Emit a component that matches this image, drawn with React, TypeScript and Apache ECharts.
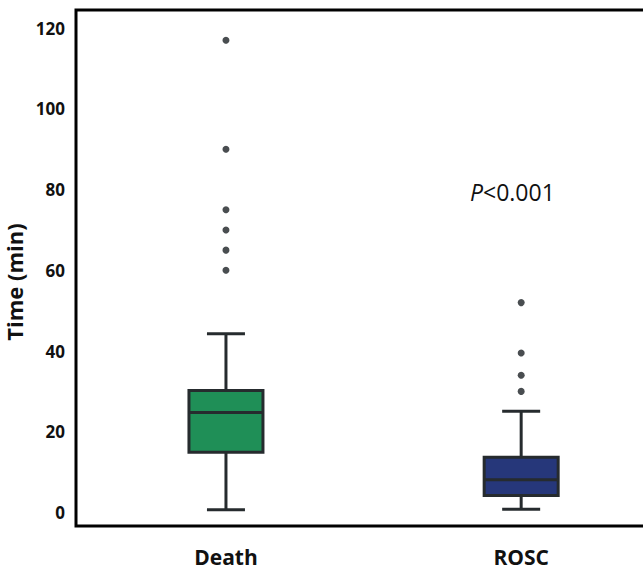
import React, { useEffect, useRef } from "react";
import * as echarts from "echarts";

const categories = ["Death", "ROSC"];
const whiskerLow = [0.7, 0.8];
const q1Values = [14.9, 4.2];
const medianValues = [24.8, 8.1];
const q3Values = [30.2, 13.7];
const whiskerHigh = [44.3, 25.1];
const outliersDeath = [60, 65, 70, 75, 90, 117];
const outliersROSC = [30, 34, 39.5, 52];
const yTicks = [0, 20, 40, 60, 80, 100, 120];
const boxColors = ["#1f8f57", "#26377a"];
const pText = "P<0.001";

const FONT = "'Open Sans', 'Noto Sans', sans-serif";
const INK = "#262b2e";

export default function App() {
  const ref = useRef<HTMLDivElement>(null);
  useEffect(() => {
    if (!ref.current) return;
    const chart = echarts.init(ref.current, undefined, { renderer: "svg" });
    const boxData = categories.map((_, i) => [
      i,
      whiskerLow[i],
      q1Values[i],
      medianValues[i],
      q3Values[i],
      whiskerHigh[i],
    ]);
    const outlierData = [
      ...outliersDeath.map((v) => [0, v]),
      ...outliersROSC.map((v) => [1, v]),
    ];
    chart.setOption({
      animation: false,
      backgroundColor: "#ffffff",
      grid: {
        left: 76,
        top: 10,
        width: 640,
        height: 516,
        show: true,
        borderColor: "#000",
        borderWidth: 3,
        backgroundColor: "transparent",
        outerBoundsMode: "none",
        containLabel: false,
      },
      xAxis: {
        type: "value",
        min: -0.508,
        max: 1.66,
        splitLine: { show: false },
        axisLine: { show: false },
        axisTick: { show: false },
        axisLabel: {
          customValues: [0, 1],
          formatter: (v: number) => categories[Math.round(v)] ?? "",
          fontFamily: FONT,
          fontWeight: "bold",
          fontSize: 21,
          color: "#111",
          margin: 20,
        },
      },
      yAxis: {
        type: "value",
        min: -3.35,
        max: 124.5,
        name: "Time (min)",
        nameLocation: "middle",
        nameRotate: 90,
        nameGap: 40,
        nameTextStyle: {
          fontFamily: FONT,
          fontWeight: "bold",
          fontSize: 22,
          color: "#111",
          padding: [0, 28, 0, 0],
        },
        splitLine: { show: false },
        axisLine: { show: false },
        axisTick: { show: false },
        axisLabel: {
          customValues: yTicks,
          fontFamily: FONT,
          fontWeight: "bold",
          fontSize: 17,
          color: "#111",
          margin: 11,
        },
      },
      series: [
        {
          type: "custom",
          data: boxData,
          renderItem: (params: any, api: any) => {
            const x = api.value(0);
            const lo = api.coord([x, api.value(1)]);
            const q1 = api.coord([x, api.value(2)]);
            const med = api.coord([x, api.value(3)]);
            const q3 = api.coord([x, api.value(4)]);
            const hi = api.coord([x, api.value(5)]);
            const cx = lo[0];
            const bw = 74;
            const cw = 38;
            const ls = { stroke: INK, lineWidth: 3 };
            return {
              type: "group",
              children: [
                { type: "line", shape: { x1: cx, y1: hi[1], x2: cx, y2: q3[1] }, style: ls },
                { type: "line", shape: { x1: cx, y1: q1[1], x2: cx, y2: lo[1] }, style: ls },
                { type: "line", shape: { x1: cx - cw / 2, y1: hi[1], x2: cx + cw / 2, y2: hi[1] }, style: ls },
                { type: "line", shape: { x1: cx - cw / 2, y1: lo[1], x2: cx + cw / 2, y2: lo[1] }, style: ls },
                {
                  type: "rect",
                  shape: { x: cx - bw / 2, y: q3[1], width: bw, height: q1[1] - q3[1] },
                  style: { fill: boxColors[params.dataIndex], stroke: INK, lineWidth: 3 },
                },
                { type: "line", shape: { x1: cx - bw / 2, y1: med[1], x2: cx + bw / 2, y2: med[1] }, style: ls },
              ],
            };
          },
        },
        {
          type: "scatter",
          data: outlierData,
          symbol: "circle",
          symbolSize: 7,
          itemStyle: { color: "#1c2124" },
        },
      ],
      graphic: [
        {
          type: "text",
          x: 470,
          y: 192,
          style: {
            text: "{i|P}{n|<0.001}",
            rich: {
              i: { fontStyle: "italic", fontSize: 23, fontFamily: FONT, fill: "#111" },
              n: { fontSize: 23, fontFamily: FONT, fill: "#111" },
            },
            verticalAlign: "middle",
            fill: "#111",
          },
        },
      ],
    });
    return () => chart.dispose();
  }, []);
  return (
    <div
      ref={ref}
      aria-label={pText}
      style={{ position: "fixed", left: 0, top: 0, width: 643, height: 570, background: "#fff" }}
    />
  );
}
